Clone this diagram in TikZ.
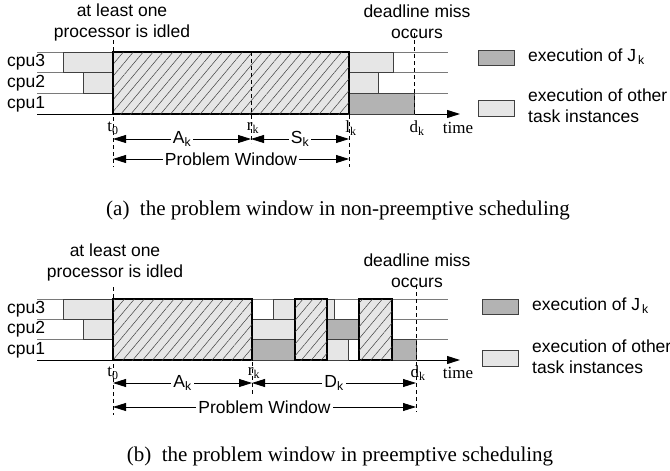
\documentclass[tikz,border=0pt]{standalone}
\usepackage{fontspec}
\setmainfont{Liberation Sans}
\newfontfamily\timesfont{Liberation Serif}
\usetikzlibrary{arrows.meta, patterns.meta}
\definecolor{otherfill}{HTML}{E6E6E6}
\definecolor{jobfill}{HTML}{B3B3B3}
\definecolor{edgegray}{HTML}{404040}
\definecolor{lanegray}{HTML}{7A7A7A}

\begin{document}
\begin{tikzpicture}[
    x=1pt, y=-1pt,
    >={Triangle[length=13pt, width=8pt]},
    lbl/.style={font=\fontsize{17.5}{21}\selectfont, inner sep=0pt, align=center},
    tick/.style={font=\timesfont\fontsize{17}{20}\selectfont, inner sep=0pt},
    capline/.style={font=\timesfont\fontsize{21}{24}\selectfont, inner sep=0pt},
    lane/.style={draw=lanegray, line width=0.8pt},
    axis/.style={->, line width=1pt},
    other/.style={draw=edgegray, fill=otherfill, line width=0.8pt},
    jobk/.style={draw=edgegray, fill=jobfill, line width=0.8pt},
    window/.style={draw=black, line width=1.6pt, fill=otherfill,
                   postaction={pattern={Lines[angle=50, distance=7.6pt, line width=0.5pt]}, pattern color=edgegray}},
    vline/.style={dash pattern=on 4pt off 3pt, line width=0.8pt},
    dim/.style={<->, line width=0.8pt},
    dimlbl/.style={font=\fontsize{17.5}{21}\selectfont, fill=white, inner sep=2pt},
]
\useasboundingbox (0,0) rectangle (670,471);

% ---------------- (a) non-preemptive ----------------
\coordinate (a-t0) at (113,114);
\coordinate (a-rk) at (251,114);
\coordinate (a-lk) at (349,114);
\coordinate (a-dk) at (414,114);
\coordinate (a-end) at (460,114);

% lanes and time axis
\draw[lane] (37,52) -- (448,52);
\draw[lane] (37,72) -- (448,72);
\draw[lane] (37,93) -- (448,93);
\draw[axis] (37,114) -- (a-end);

% cpu labels
\node[lbl, anchor=west] (a-cpu3) at (7,62) {cpu3};
\node[lbl, anchor=west] (a-cpu2) at (7,83) {cpu2};
\node[lbl, anchor=west] (a-cpu1) at (7,104) {cpu1};

% executions before and after the window
\draw[other] (63,52) rectangle (113,72);
\draw[other] (83,72) rectangle (113,93);
\draw[other] (349,52) rectangle (393,72);
\draw[other] (349,72) rectangle (378,93);
\draw[jobk] (349,93) rectangle (414,114);

% busy interval
\draw[window] (113,52) rectangle (349,114);

% time instants
\draw[vline] (113,40) -- (113,167);
\draw[vline] (251,52) -- (251,143);
\draw[vline] (349,52) -- (349,167);
\draw[vline] (414,33) -- (a-dk);
\node[tick] (a-t0lbl) at (113,128) {t\textsubscript{0}};
\node[tick] (a-rklbl) at (253,128) {r\textsubscript{k}};
\node[tick] (a-lklbl) at (351,128) {l\textsubscript{k}};
\node[tick] (a-dklbl) at (417,128) {d\textsubscript{k}};
\node[tick] (a-time) at (458,128) {time};

% notes
\node[lbl] (a-idle) at (122,22) {at least one\\processor is idled};
\node[lbl] (a-miss) at (417,22) {deadline miss\\occurs};

% intervals
\coordinate (a-A0) at (113,139);
\coordinate (a-A1) at (251,139);
\coordinate (a-S1) at (349,139);
\coordinate (a-P0) at (113,159);
\coordinate (a-P1) at (349,159);
\draw[dim] (a-A0) -- node[dimlbl] {A\textsubscript{k}} (a-A1);
\draw[dim] (a-A1) -- node[dimlbl] {S\textsubscript{k}} (a-S1);
\draw[dim] (a-P0) -- node[dimlbl] {Problem Window} (a-P1);

% legend
\draw[jobk] (478,50) rectangle (514,65);
\node[lbl, anchor=west] (a-leg1) at (528,57) {execution of J\textsubscript{\,k}};
\draw[other] (478,100) rectangle (514,116);
\node[lbl, anchor=west, align=left] (a-leg2) at (528,106) {execution of other\\task instances};

\node[capline] (a-cap) at (338,210) {(a)\hspace{0.5em}the problem window in non-preemptive scheduling};

% ---------------- (b) preemptive ----------------
\coordinate (b-t0) at (113,360);
\coordinate (b-rk) at (252,360);
\coordinate (b-dk) at (416,360);
\coordinate (b-end) at (460,360);

% lanes and time axis
\draw[lane] (37,299) -- (448,299);
\draw[lane] (37,319) -- (448,319);
\draw[lane] (37,339) -- (448,339);
\draw[axis] (37,360) -- (b-end);

% cpu labels
\node[lbl, anchor=west] (b-cpu3) at (7,309) {cpu3};
\node[lbl, anchor=west] (b-cpu2) at (7,329) {cpu2};
\node[lbl, anchor=west] (b-cpu1) at (7,350) {cpu1};

% executions
\draw[other] (63,299) rectangle (113,319);
\draw[other] (83,319) rectangle (113,339);
\draw[other] (273,299) rectangle (295,319);
\draw[other] (252,319) rectangle (295,339);
\draw[jobk] (252,339) rectangle (295,360);
\draw[other] (327,299) rectangle (334,319);
\draw[jobk] (327,319) rectangle (359,339);
\draw[other] (327,339) rectangle (348,360);
\draw[jobk] (392,339) rectangle (416,360);

% busy intervals
\draw[window] (113,299) rectangle (252,360);
\draw[window] (295,299) rectangle (327,360);
\draw[window] (359,299) rectangle (392,360);

% time instants
\draw[vline] (113,287) -- (113,415);
\draw[vline] (252,299) -- (252,395);
\draw[vline] (416,285) -- (416,412);
\node[tick] (b-t0lbl) at (113,373) {t\textsubscript{0}};
\node[tick] (b-rklbl) at (254,373) {r\textsubscript{k}};
\node[tick] (b-dklbl) at (418,373) {d\textsubscript{k}};
\node[tick] (b-time) at (458,373) {time};

% notes
\node[lbl] (b-idle) at (115,262) {at least one\\processor is idled};
\node[lbl] (b-miss) at (417,271) {deadline miss\\occurs};

% intervals
\coordinate (b-A0) at (113,383);
\coordinate (b-A1) at (252,383);
\coordinate (b-D1) at (416,383);
\coordinate (b-P0) at (113,407);
\coordinate (b-P1) at (416,407);
\draw[dim] (b-A0) -- node[dimlbl] {A\textsubscript{k}} (b-A1);
\draw[dim] (b-A1) -- node[dimlbl] {D\textsubscript{k}} (b-D1);
\draw[dim] (b-P0) -- node[dimlbl] {Problem Window} (b-P1);

% legend
\draw[jobk] (482,299) rectangle (518,314);
\node[lbl, anchor=west] (b-leg1) at (532,306) {execution of J\textsubscript{\,k}};
\draw[other] (482,350) rectangle (518,366);
\node[lbl, anchor=west, align=left] (b-leg2) at (532,357) {execution of other\\task instances};

\node[capline] (b-cap) at (340,456) {(b)\hspace{0.5em}the problem window in preemptive scheduling};

\end{tikzpicture}
\end{document}
